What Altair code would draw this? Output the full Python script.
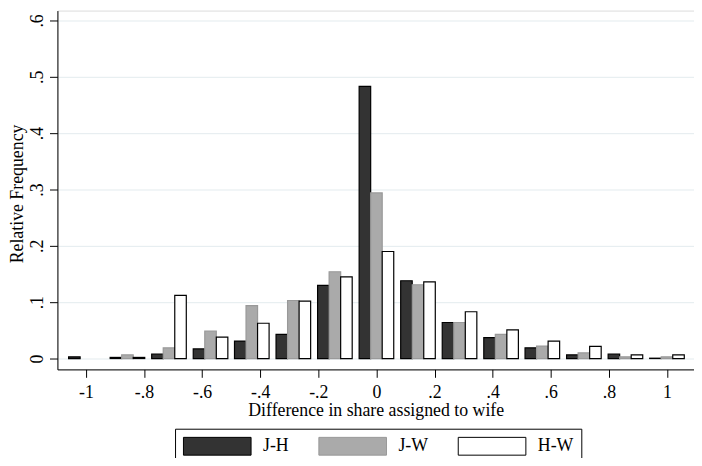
import altair as alt
import pandas as pd

# Bin centres (share difference) and relative frequencies per series
bin_centers = [-1.0, -0.857, -0.714, -0.571, -0.429, -0.286, -0.143, 0.0,
               0.143, 0.286, 0.429, 0.571, 0.714, 0.857, 1.0]
series_names = ["J-H", "J-W", "H-W"]
jh = [0.003, 0.002, 0.008, 0.017, 0.031, 0.043, 0.130, 0.483,
      0.138, 0.064, 0.037, 0.019, 0.0065, 0.008, 0.0006]
jw = [0.0, 0.0065, 0.019, 0.0485, 0.094, 0.103, 0.154, 0.294,
      0.131, 0.064, 0.043, 0.022, 0.010, 0.003, 0.003]
hw = [0.0, 0.002, 0.112, 0.038, 0.0626, 0.102, 0.145, 0.190,
      0.136, 0.083, 0.051, 0.031, 0.0216, 0.0065, 0.0065]

x_tick_values = [-1, -0.8, -0.6, -0.4, -0.2, 0, 0.2, 0.4, 0.6, 0.8, 1]
x_tick_labels = ["-1", "-.8", "-.6", "-.4", "-.2", "0", ".2", ".4", ".6", ".8", "1"]
y_tick_values = [0, 0.1, 0.2, 0.3, 0.4, 0.5, 0.6]
y_tick_labels = ["0", ".1", ".2", ".3", ".4", ".5", ".6"]

fills = ["#333333", "#aaaaaa", "#ffffff"]
strokes = ["#000000", "#999999", "#000000"]

bar_w = 0.0397  # width of one bar in x units (three bars per bin)

rows = []
for si, (name, vals) in enumerate(zip(series_names, [jh, jw, hw])):
    for c, v in zip(bin_centers, vals):
        if v <= 0:
            continue
        mid = c + (si - 1) * bar_w
        rows.append({"series": name, "x0": mid - bar_w / 2, "x1": mid + bar_w / 2,
                     "freq": v})
df = pd.DataFrame(rows)


def label_expr(values, labels):
    expr = "''"
    for v, l in reversed(list(zip(values, labels))):
        expr = f"abs(datum.value - ({v})) < 1e-9 ? '{l}' : ({expr})"
    return expr


FONT = "Liberation Serif"

legend = alt.Legend(
    title=None, orient="none", legendX=119, legendY=423, direction="horizontal",
    columns=3, symbolType="M-1,-1H6.6V1H-1Z", symbolSize=324, symbolStrokeWidth=1,
    labelFont=FONT, labelFontSize=18, labelColor="black", labelOffset=62,
    columnPadding=28, padding=8, strokeColor="#000000", fillColor="white",
    symbolOpacity=1,
)

chart = alt.Chart(df).mark_bar(strokeWidth=1.2, opacity=1).encode(
    x=alt.X("x0:Q",
            scale=alt.Scale(domain=[-1.098, 1.093], nice=False, zero=False),
            axis=alt.Axis(values=x_tick_values,
                          labelExpr=label_expr(x_tick_values, x_tick_labels),
                          title="Difference in share assigned to wife",
                          grid=False, tickSize=8, tickColor="black",
                          domainColor="black", labelFont=FONT, labelFontSize=18,
                          labelColor="black", labelPadding=6, titleFont=FONT,
                          titleFontSize=18, titleFontWeight="normal",
                          titleColor="black", titlePadding=1, labelFlush=False)),
    x2="x1:Q",
    y=alt.Y("freq:Q",
            scale=alt.Scale(domain=[-0.0193, 0.6175], nice=False, zero=False),
            axis=alt.Axis(values=y_tick_values,
                          labelExpr=label_expr(y_tick_values, y_tick_labels),
                          title="Relative Frequency", grid=True,
                          gridColor="#e3ebee", gridWidth=1, tickSize=8,
                          tickColor="black", domainColor="black",
                          labelFont=FONT, labelFontSize=18, labelColor="black",
                          labelAngle=270, labelAlign="center",
                          labelBaseline="bottom", labelPadding=3,
                          titleFont=FONT, titleFontSize=18,
                          titleFontWeight="normal", titleColor="black",
                          titleAngle=270, titleBaseline="bottom", titleX=-31,
                          titleY=185, titleAlign="center", labelFlush=False)),
    y2=alt.datum(0),
    fill=alt.Fill("series:N", scale=alt.Scale(domain=series_names, range=fills),
                  legend=legend),
    stroke=alt.Stroke("series:N", scale=alt.Scale(domain=series_names, range=strokes),
                      legend=legend),
).properties(
    width=644, height=363,
    autosize=alt.AutoSizeParams(type="none"),
    padding={"left": 50, "top": 0, "right": 0, "bottom": 87},
).configure_view(stroke=None).configure(background="white")

chart.save("out.html", embed_options={"renderer": "svg", "actions": False})
